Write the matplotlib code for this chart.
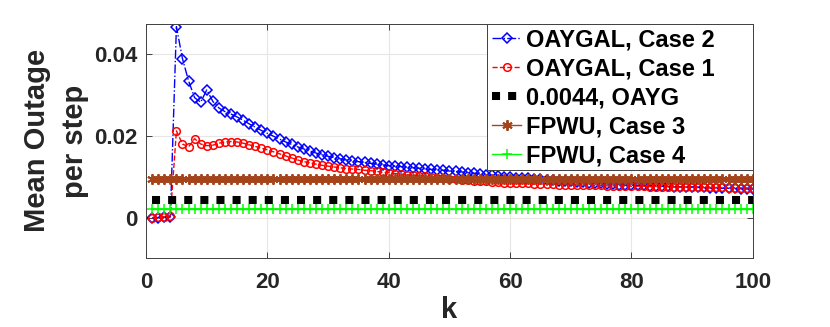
import numpy as np
import matplotlib
matplotlib.use('Agg')
import matplotlib.pyplot as plt
from matplotlib.patches import Rectangle

plt.rcParams['font.family'] = ['Liberation Sans', 'DejaVu Sans']
plt.rcParams['font.weight'] = 'bold'

k = np.arange(1, 101)

# OAYGAL, Case 2 (blue)
case2 = [0.0000, 0.0000, 0.0001, 0.0002, 0.0466, 0.0388, 0.0334, 0.0293, 0.0282, 0.0312,
         0.0284, 0.0268, 0.0259, 0.0253, 0.0246, 0.0238, 0.0229, 0.0221, 0.0213, 0.0206,
         0.0199, 0.0192, 0.0185, 0.0179, 0.0173, 0.0168, 0.0163, 0.0158, 0.0154, 0.0150,
         0.0147, 0.0144, 0.0141, 0.0139, 0.0137, 0.0135, 0.0133, 0.0131, 0.0129, 0.0127,
         0.0126, 0.0125, 0.0123, 0.0122, 0.0121, 0.0119, 0.0118, 0.0117, 0.0116, 0.0114,
         0.0113, 0.0112, 0.0110, 0.0109, 0.0107, 0.0105, 0.0104, 0.0102, 0.0100, 0.0099,
         0.0098, 0.0097, 0.0096, 0.0095, 0.0094, 0.0093, 0.0092, 0.0091, 0.0090, 0.0089,
         0.0088, 0.0087, 0.0086, 0.0085, 0.0084, 0.0083, 0.0082, 0.0081, 0.0080, 0.0080,
         0.0079, 0.0079, 0.0078, 0.0078, 0.0077, 0.0077, 0.0076, 0.0076, 0.0075, 0.0075,
         0.0074, 0.0074, 0.0073, 0.0073, 0.0072, 0.0072, 0.0072, 0.0071, 0.0071, 0.0070]

# OAYGAL, Case 1 (red)
case1 = [0.0000, 0.0002, 0.0003, 0.0005, 0.0212, 0.0180, 0.0173, 0.0193, 0.0180, 0.0176,
         0.0177, 0.0182, 0.0185, 0.0186, 0.0185, 0.0182, 0.0178, 0.0174, 0.0170, 0.0166,
         0.0161, 0.0156, 0.0151, 0.0146, 0.0141, 0.0137, 0.0134, 0.0131, 0.0128, 0.0126,
         0.0124, 0.0122, 0.0120, 0.0119, 0.0118, 0.0116, 0.0115, 0.0113, 0.0111, 0.0110,
         0.0108, 0.0107, 0.0105, 0.0104, 0.0102, 0.0101, 0.0099, 0.0098, 0.0096, 0.0095,
         0.0094, 0.0093, 0.0092, 0.0091, 0.0090, 0.0089, 0.0088, 0.0087, 0.0086, 0.0085,
         0.0085, 0.0084, 0.0084, 0.0083, 0.0083, 0.0082, 0.0082, 0.0081, 0.0081, 0.0080,
         0.0080, 0.0080, 0.0079, 0.0079, 0.0079, 0.0078, 0.0078, 0.0078, 0.0077, 0.0077,
         0.0077, 0.0077, 0.0076, 0.0076, 0.0076, 0.0076, 0.0075, 0.0075, 0.0075, 0.0075,
         0.0074, 0.0074, 0.0074, 0.0074, 0.0074, 0.0073, 0.0073, 0.0073, 0.0073, 0.0073]

oayg = 0.0044
fpwu3 = 0.0095
fpwu4 = 0.0022

fig = plt.figure(figsize=(8.3, 3.27), dpi=100)
ax = fig.add_axes([0.176, 0.211, 0.731, 0.716])

ax.plot(k, case2, color='#0000ff', linestyle='-.', lw=1.0, marker='D', ms=5,
        mfc='none', mec='#0000ff', mew=1.1, label='OAYGAL, Case 2')
ax.plot(k, case1, color='#ff0000', linestyle='--', lw=1.0, marker='o', ms=5.5,
        mfc='none', mec='#ff0000', mew=1.1, label='OAYGAL, Case 1')
ax.plot(k, np.full(len(k), oayg), color='black', lw=5.8, linestyle=(0, (1, 1)),
        dash_capstyle='butt', label='0.0044, OAYG')
ax.plot(k, np.full(len(k), fpwu3), color='#a5441b', lw=1.0, marker=(6, 2, 0), ms=7.5,
        mew=1.4, label='FPWU, Case 3')
ax.plot(k, np.full(len(k), fpwu4), color='#00ff00', lw=1.0, marker='+', ms=7,
        mew=1.1, label='FPWU, Case 4')

ax.set_xlim(0, 100)
ax.set_ylim(-0.0098, 0.0473)
ax.set_xticks([0, 20, 40, 60, 80, 100])
ax.set_yticks([0, 0.02, 0.04])
ax.set_yticklabels(['0', '0.02', '0.04'])
ax.grid(True, color='#e6e6e6', lw=0.8)
ax.set_axisbelow(True)
ax.tick_params(direction='in', top=True, right=True, labelsize=16, colors='#262626',
               length=4, width=0.6)
ax.tick_params(axis='x', pad=10)
ax.tick_params(axis='y', pad=6)
for lab in ax.get_xticklabels() + ax.get_yticklabels():
    lab.set_fontweight('bold')
for s in ax.spines.values():
    s.set_color('#404040')
    s.set_linewidth(0.7)

ax.set_xlabel('k', fontsize=21, fontweight='bold', color='#262626', labelpad=2)
ax.set_ylabel('Mean Outage\nper step', fontsize=21, fontweight='bold', color='#262626',
              labelpad=4, linespacing=1.45)

# legend box (MATLAB style leaves extra room on the right)
box = Rectangle((0.562, 0.376), 0.438, 0.624, transform=ax.transAxes, facecolor='white',
                edgecolor='#404040', lw=0.7, zorder=4.9, clip_on=False)
ax.add_patch(box)
leg = ax.legend(loc='upper left', bbox_to_anchor=(0.562, 1.0), frameon=False,
                borderaxespad=0, handlelength=1.25, handletextpad=0.2, labelspacing=0.25,
                borderpad=0.2, prop={'weight': 'bold', 'size': 17})
leg.set_zorder(5)

fig.savefig('out.png', dpi=100)
